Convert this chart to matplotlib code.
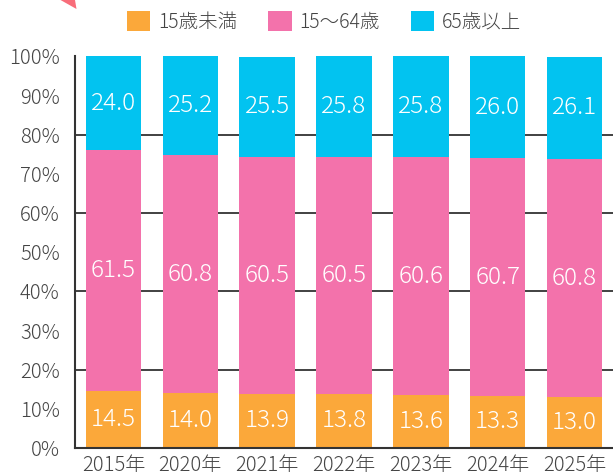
import matplotlib
matplotlib.use("Agg")
import matplotlib.pyplot as plt
from matplotlib.patches import Patch, Polygon

plt.rcParams['font.family'] = ['Noto Sans CJK JP', 'DejaVu Sans']
plt.rcParams['font.weight'] = 'light'

years = ["2015年", "2020年", "2021年", "2022年", "2023年", "2024年", "2025年"]
under15 = [14.5, 14.0, 13.9, 13.8, 13.6, 13.3, 13.0]
age15_64 = [61.5, 60.8, 60.5, 60.5, 60.6, 60.7, 60.8]
over65 = [24.0, 25.2, 25.5, 25.8, 25.8, 26.0, 26.1]
series_names = ["15歳未満", "15～64歳", "65歳以上"]
colors = ["#FBA83A", "#F372AB", "#02C3F0"]
yticks = [0, 10, 20, 30, 40, 50, 60, 70, 80, 90, 100]
ytick_labels = [f"{v}%" for v in yticks]

W, H = 613, 472
fig = plt.figure(figsize=(W / 100, H / 100), dpi=100)
ax = fig.add_axes([75 / W, 1 - 448 / H, (W - 75) / W, (448 - 56) / H])

x = list(range(len(years)))
bottoms = [0] * len(years)
text_col = "#444444"
for vals, col in zip([under15, age15_64, over65], colors):
    ax.bar(x, vals, bottom=bottoms, width=0.72, color=col, zorder=2)
    for xi, b, v in zip(x, bottoms, vals):
        ax.text(xi, b + v / 2, f"{v:.1f}", ha="center", va="center",
                color="white", fontsize=17.5, zorder=3)
    bottoms = [b + v for b, v in zip(bottoms, vals)]

ax.set_xlim(-0.5, 6.5)
ax.set_ylim(0, 100.1)
ax.set_yticks(yticks)
ax.set_yticklabels(ytick_labels)
ax.set_xticks(x)
ax.set_xticklabels(years)
ax.tick_params(axis="y", length=0, pad=11, labelsize=14.5, labelcolor=text_col)
ax.tick_params(axis="x", length=0, pad=5, labelsize=14.5, labelcolor=text_col)

for gy in [20, 40, 60, 80]:
    ax.axhline(gy, color="#333333", linewidth=1.3, zorder=1)

for s in ["top", "right"]:
    ax.spines[s].set_visible(False)
for s in ["left", "bottom"]:
    ax.spines[s].set_color("#333333")
    ax.spines[s].set_linewidth(1.5)

handles = [Patch(facecolor=c, edgecolor="none") for c in colors]
fig.legend(handles, series_names, loc="center", bbox_to_anchor=(324 / W, 1 - 22 / H),
           ncol=3, frameon=False, fontsize=14, handlelength=1.2, handleheight=1.2,
           handletextpad=0.4, columnspacing=1.6, labelcolor=text_col)

tri = Polygon([[60.5 / W, 1.0], [75 / W, 1.0], [76.5 / W, 1 - 9 / H]], closed=True,
              transform=fig.transFigure, facecolor="#F86D7A", edgecolor="none")
fig.patches.append(tri)

fig.savefig("out.png", dpi=100)
